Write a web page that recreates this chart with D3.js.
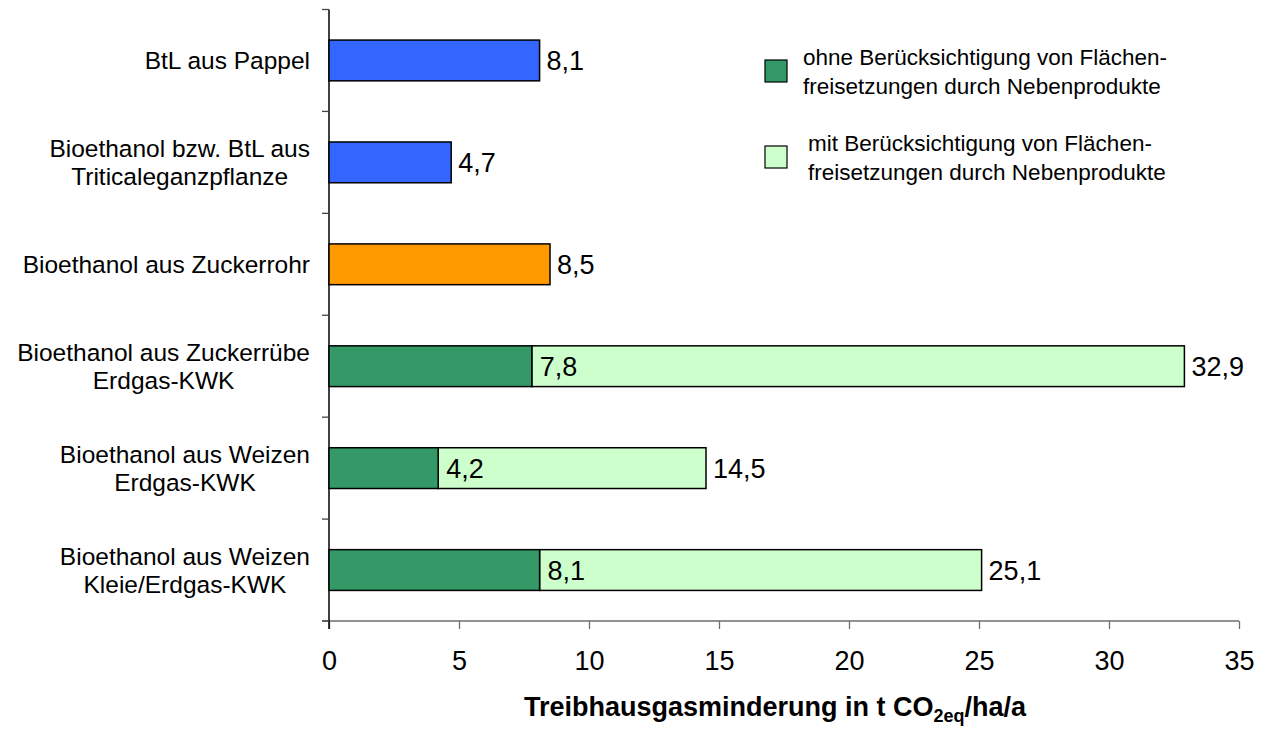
<!DOCTYPE html>
<html>
<head>
<meta charset="utf-8">
<script src="https://cdn.jsdelivr.net/npm/d3@7"></script>
<style>
  html, body { margin: 0; padding: 0; background: #fff; }
  svg { display: block; font-family: "Liberation Sans", Arial, sans-serif; }
</style>
</head>
<body>
<svg id="chart" width="1262" height="729"></svg>
<script>
// ---- data ----
const categories = [
  ["BtL aus Pappel"],
  ["Bioethanol bzw. BtL aus", "Triticaleganzpflanze"],
  ["Bioethanol aus Zuckerrohr"],
  ["Bioethanol aus Zuckerrübe", "Erdgas-KWK"],
  ["Bioethanol aus Weizen", "Erdgas-KWK"],
  ["Bioethanol aus Weizen", "Kleie/Erdgas-KWK"]
];
const singleValues = [8.1, 4.7, 8.5, null, null, null];          // single bars
const ohneValues   = [null, null, null, 7.8, 4.2, 8.1];          // ohne Berücksichtigung
const mitValues    = [null, null, null, 32.9, 14.5, 25.1];       // mit Berücksichtigung (total)
const xTicks = [0, 5, 10, 15, 20, 25, 30, 35];
const legendLabels = [
  ["ohne Berücksichtigung von Flächen-", "freisetzungen durch Nebenprodukte"],
  ["mit Berücksichtigung von Flächen-", "freisetzungen durch Nebenprodukte"]
];
const axisTitle = { main: "Treibhausgasminderung in t CO", sub: "2eq", tail: "/ha/a" };

// ---- styles ----
const singleColors = ["#3366FF", "#3366FF", "#FF9900", null, null, null];
const ohneColor = "#339966";
const mitColor = "#CCFFCC";

const de = d3.formatLocale({ decimal: ",", thousands: ".", grouping: [3], currency: ["", " €"] });
const fmt = de.format(".1f");

const svg = d3.select("#chart");
const catKeys = categories.map((c, i) => i);

const x = d3.scaleLinear().domain([0, 35]).range([329, 1239]);
const y = d3.scaleBand().domain(catKeys).range([9.5, 621]).paddingInner(0.6).paddingOuter(0.3);
const step = y.step();

// ---- x axis ----
const xAxisG = svg.append("g").attr("transform", "translate(0,621)")
  .call(d3.axisBottom(x).tickValues(xTicks).tickSize(8).tickPadding(22).tickFormat(d3.format("d")));
xAxisG.select(".domain").attr("stroke", "#6e6e6e").attr("stroke-width", 1.3)
  .attr("d", `M${x(0) - 7},0H${x(35)}`);
xAxisG.selectAll(".tick line").attr("stroke", "#6e6e6e").attr("stroke-width", 1.3);
xAxisG.selectAll(".tick text").attr("font-size", 27).attr("fill", "#000")
  .attr("font-family", "Liberation Sans, Arial, sans-serif");

// ---- y axis ----
const yAxisG = svg.append("g");
yAxisG.append("line").attr("x1", x(0)).attr("x2", x(0)).attr("y1", 9.5).attr("y2", 629)
  .attr("stroke", "#000").attr("stroke-width", 1.5);
const boundaries = catKeys.map(k => y(k) - step * y.paddingInner() / 2);
boundaries.push(621);
yAxisG.selectAll("line.tk").data(boundaries).join("line").attr("class", "tk")
  .attr("x1", x(0) - 7).attr("x2", x(0)).attr("y1", d => d).attr("y2", d => d)
  .attr("stroke", "#444").attr("stroke-width", 1.3);

// ---- category labels ----
const lineH = 28;
const catG = svg.append("g").attr("font-size", 24.5).attr("fill", "#000");
categories.forEach((lines, i) => {
  const g = catG.append("g");
  const cy = y(i) + y.bandwidth() / 2;
  const n = lines.length;
  const texts = lines.map((t, j) => g.append("text")
    .attr("text-anchor", "middle")
    .attr("y", cy + (j - (n - 1) / 2) * lineH)
    .attr("dy", "0.36em")
    .text(t));
  const maxW = d3.max(texts, t => t.node().getComputedTextLength());
  texts.forEach(t => t.attr("x", 310 - maxW / 2));
});

// ---- bars ----
const barsG = svg.append("g");
const strokeW = 1.5;
barsG.selectAll("rect.single").data(catKeys.filter(i => singleValues[i] != null)).join("rect")
  .attr("class", "single")
  .attr("x", x(0)).attr("y", i => y(i))
  .attr("width", i => x(singleValues[i]) - x(0)).attr("height", y.bandwidth())
  .attr("fill", i => singleColors[i]).attr("stroke", "#000").attr("stroke-width", strokeW);
const stackIdx = catKeys.filter(i => ohneValues[i] != null);
barsG.selectAll("rect.mit").data(stackIdx).join("rect")
  .attr("class", "mit")
  .attr("x", i => x(ohneValues[i])).attr("y", i => y(i))
  .attr("width", i => x(mitValues[i]) - x(ohneValues[i])).attr("height", y.bandwidth())
  .attr("fill", mitColor).attr("stroke", "#000").attr("stroke-width", strokeW);
barsG.selectAll("rect.ohne").data(stackIdx).join("rect")
  .attr("class", "ohne")
  .attr("x", x(0)).attr("y", i => y(i))
  .attr("width", i => x(ohneValues[i]) - x(0)).attr("height", y.bandwidth())
  .attr("fill", ohneColor).attr("stroke", "#000").attr("stroke-width", strokeW);

// ---- value labels ----
const valG = svg.append("g").attr("font-size", 27).attr("fill", "#000");
catKeys.forEach(i => {
  const cy = y(i) + y.bandwidth() / 2;
  if (singleValues[i] != null) {
    valG.append("text").attr("x", x(singleValues[i]) + 7).attr("y", cy).attr("dy", "0.36em")
      .text(fmt(singleValues[i]));
  } else {
    valG.append("text").attr("x", x(ohneValues[i]) + 8).attr("y", cy).attr("dy", "0.36em")
      .text(fmt(ohneValues[i]));
    valG.append("text").attr("x", x(mitValues[i]) + 7).attr("y", cy).attr("dy", "0.36em")
      .text(fmt(mitValues[i]));
  }
});

// ---- axis title ----
const title = svg.append("text").attr("x", 775).attr("y", 716)
  .attr("text-anchor", "middle").attr("font-size", 27).attr("font-weight", "bold").attr("fill", "#000");
title.append("tspan").text(axisTitle.main);
title.append("tspan").attr("font-size", 18).attr("dy", 6).text(axisTitle.sub);
title.append("tspan").attr("dy", -6).text(axisTitle.tail);

// ---- legend ----
const legG = svg.append("g").attr("font-size", 22.5).attr("fill", "#000");
const legendColors = [ohneColor, mitColor];
const legY = [71, 157];
const legTextX = [803, 808];
legendLabels.forEach((lines, i) => {
  legG.append("rect").attr("x", 765).attr("y", legY[i] - 11).attr("width", 22).attr("height", 22)
    .attr("fill", legendColors[i]).attr("stroke", "#000").attr("stroke-width", 1.2);
  lines.forEach((t, j) => {
    legG.append("text").attr("x", legTextX[i]).attr("y", legY[i] + (j - 0.5) * 29).attr("dy", "0.36em").text(t);
  });
});
</script>
</body>
</html>
